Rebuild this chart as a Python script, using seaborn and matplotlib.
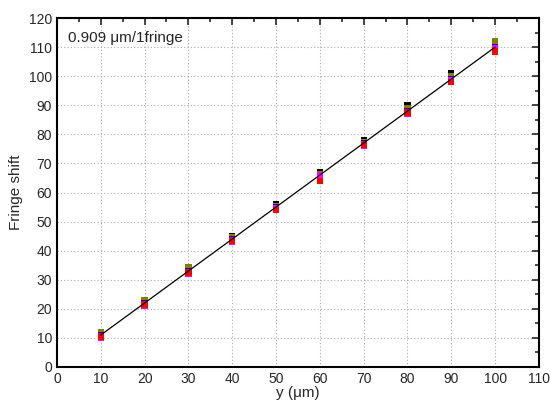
import numpy as np
import pandas as pd
import matplotlib
matplotlib.use("Agg")
import matplotlib.pyplot as plt
import seaborn as sns
from matplotlib.ticker import MultipleLocator

# displacement (um)
y_um = [10, 20, 30, 40, 50, 60, 70, 80, 90, 100]

# fringe shift, five repeated runs
run_black = [11, 22.5, 33, 45, 56, 67, 78, 90, 101, 111]
run_olive = [12, 23, 34.5, 44.5, 55.5, 66.5, 77.5, 89, 100, 112]
run_blue = [11, 22, 33, 44, 55, 66, 77, 88, 99, 110]
run_magenta = [10, 21, 32, 43, 54.5, 66, 76, 87, 98.5, 109.5]
run_red = [10.5, 21.5, 32.5, 43.5, 54, 64, 76.5, 87.5, 98, 108.5]

# linear fit, 0.909 um per fringe
fit_x = [10, 100]
fit_y = [11, 110]

runs = {"black": run_black, "olive": run_olive, "blue": run_blue,
        "magenta": run_magenta, "red": run_red}
colors = {"black": "#000000", "olive": "#808000", "blue": "#0000ff",
          "magenta": "#ff00ff", "red": "#ff0000"}

df = pd.DataFrame([(x, v, name) for name, vals in runs.items()
                   for x, v in zip(y_um, vals)],
                  columns=["y", "shift", "run"])

sns.set_style("white")
plt.rcParams["font.family"] = ["Liberation Sans", "DejaVu Sans"]

fig = plt.figure(figsize=(5.51, 4.01), dpi=100)
ax = fig.add_axes([0.1034, 0.0848, 0.8746, 0.8702])

sns.scatterplot(data=df, x="y", y="shift", hue="run", palette=colors,
                marker="s", s=20, linewidth=0, legend=False, ax=ax, zorder=3)
sns.lineplot(x=fit_x, y=fit_y, color="black", linewidth=0.9, ax=ax, zorder=4)

ax.set_xlim(0, 110)
ax.set_ylim(0, 120)
ax.xaxis.set_major_locator(MultipleLocator(10))
ax.yaxis.set_major_locator(MultipleLocator(10))
ax.xaxis.set_minor_locator(MultipleLocator(5))
ax.yaxis.set_minor_locator(MultipleLocator(5))
ax.tick_params(which="both", direction="in", top=True, right=True,
               labeltop=False, labelright=False, width=1.2)
ax.tick_params(which="major", length=5, labelsize=10)
ax.tick_params(which="minor", length=3)
for s in ax.spines.values():
    s.set_linewidth(1.5)
    s.set_color("black")

ax.grid(True, which="major", linestyle=(0, (1, 2)), color="#aaaaaa", linewidth=0.8)
ax.set_axisbelow(True)

ax.set_xlabel("y (\u03bcm)", fontsize=11, labelpad=0)
ax.set_ylabel("Fringe shift", fontsize=11, labelpad=4)
ax.text(2.5, 113, "0.909 \u03bcm/1fringe", fontsize=11, va="center")

fig.savefig("out.png", dpi=100)
